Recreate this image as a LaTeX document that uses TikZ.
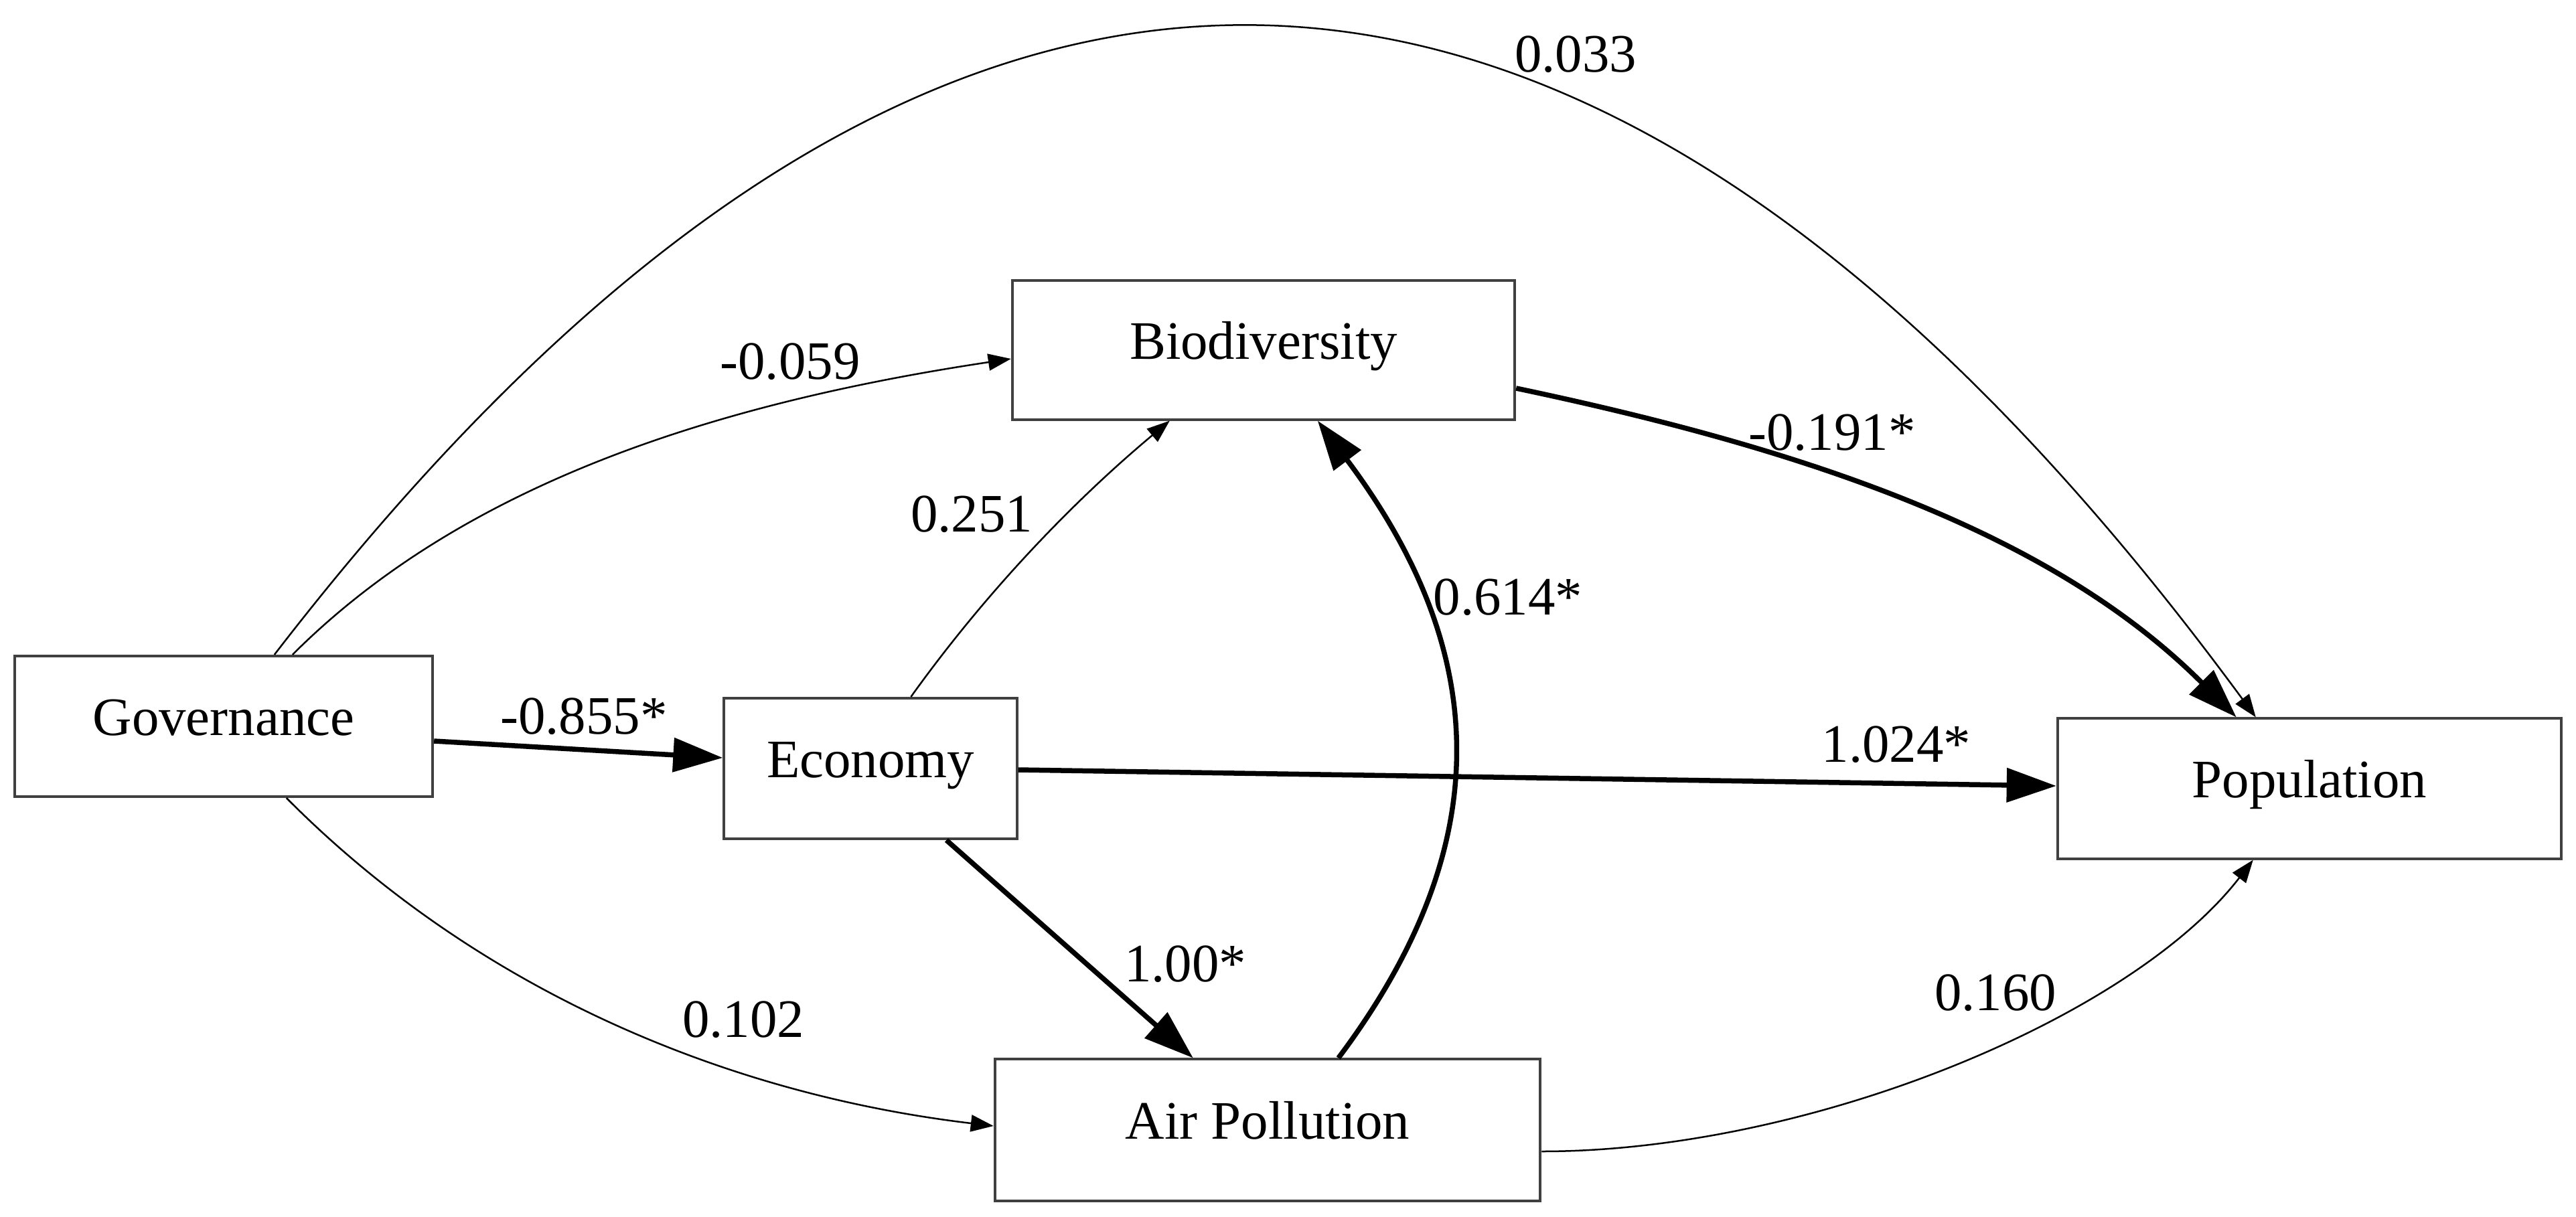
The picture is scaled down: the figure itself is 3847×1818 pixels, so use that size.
\documentclass[tikz,border=0pt]{standalone}
\usepackage{fontspec}
\setmainfont{Liberation Serif}
\usetikzlibrary{arrows.meta,calc}
\begin{document}
\begin{tikzpicture}[x=0.01cm,y=-0.01cm,
  box/.style={draw=black!75, line width=0.04cm, fill=white, inner sep=0pt,
    text height=0.75em, text depth=0pt, font=\fontsize{23}{27}\selectfont},
  lbl/.style={inner sep=0pt, font=\fontsize{23}{27}\selectfont},
  weakpath/.style={line width=0.025cm, -{Triangle[length=3.4mm,width=2.5mm]}},
  strongpath/.style={line width=0.075cm, -{Triangle[length=7.4mm,width=5mm]}}]
\useasboundingbox (0,0) rectangle (3847,1818);

% boxes
\node[box, minimum width=6.24cm, minimum height=2.10cm] (gov) at (334,1085) {Governance};
\node[box, minimum width=4.37cm, minimum height=2.10cm] (eco) at (1300,1148) {Economy};
\node[box, minimum width=7.50cm, minimum height=2.07cm] (bio) at (1887,523) {Biodiversity};
\node[box, minimum width=8.14cm, minimum height=2.11cm] (air) at (1893,1688) {Air Pollution};
\node[box, minimum width=7.52cm, minimum height=2.09cm] (pop) at (3449,1178) {Population};

% connectors
\draw[weakpath] ($(gov.north west)+(417,0)$) .. controls +(251,-251) and +(-452,68) .. ($(bio.west)+(0,13)$);
\draw[weakpath] ($(gov.north west)+(390,0)$) .. controls +(986,-1280) and +(-987,-1343) .. ($(pop.north west)+(298,0)$);
\draw[strongpath] ($(gov.east)+(0,22)$) -- ($(eco.west)+(0,-16)$);
\draw[weakpath] ($(gov.south west)+(408,0)$) .. controls +(283,285) and +(-403,-48) .. ($(air.west)+(0,-6)$);
\draw[weakpath] ($(eco.north west)+(281,0)$) .. controls +(111,-155) and +(-146,122) .. ($(bio.south west)+(237,0)$);
\draw[strongpath] ($(eco.east)+(0,2)$) -- ($(pop.west)+(0,-4)$);
\draw[strongpath] ($(eco.south west)+(334,0)$) -- ($(air.north west)+(298,0)$);
\draw[strongpath] ($(air.north west)+(515,0)$) .. controls +(234,-312) and +(264,352) .. ($(bio.south west)+(458,0)$);
\draw[strongpath] ($(bio.east)+(0,57)$) .. controls +(452,95) and +(-270,-270) .. ($(pop.north west)+(269,0)$);
\draw[weakpath] ($(air.east)+(0,32)$) .. controls +(399,0) and +(-183,237) .. ($(pop.south west)+(294,0)$);

% labels
\node[lbl] (l855) at (872,1070) {-0.855*};
\node[lbl] (l059) at (1180,540) {-0.059};
\node[lbl] (l033) at (2353,81) {0.033};
\node[lbl] (l251) at (1451,768) {0.251};
\node[lbl] (l614) at (2252,892) {0.614*};
\node[lbl] (l191) at (2736,646) {-0.191*};
\node[lbl] (l1024) at (2832,1112) {1.024*};
\node[lbl] (l100) at (1770,1440) {1.00*};
\node[lbl] (l102) at (1110,1523) {0.102};
\node[lbl] (l160) at (2980,1483) {0.160};
\end{tikzpicture}
\end{document}
